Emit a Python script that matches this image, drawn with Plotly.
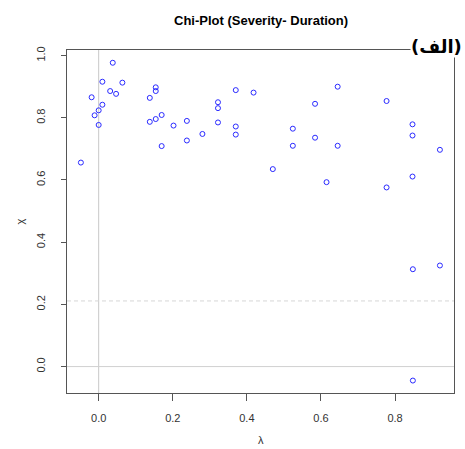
import plotly.graph_objects as go

# Data
lambda_vals = [-0.048, -0.019, 0.038, 0.010, 0.064, 0.031, 0.047, 0.010, 0.000, -0.011,
               0.000, 0.154, 0.154, 0.138, 0.138, 0.154, 0.170, 0.170, 0.202, 0.238,
               0.238, 0.280, 0.322, 0.322, 0.322, 0.370, 0.370, 0.370, 0.418, 0.645,
               0.584, 0.777, 0.524, 0.584, 0.524, 0.645, 0.847, 0.847, 0.921, 0.470,
               0.615, 0.777, 0.847, 0.848, 0.921, 0.848]
chi_vals = [0.656, 0.866, 0.977, 0.916, 0.913, 0.886, 0.877, 0.842, 0.824, 0.808,
            0.777, 0.898, 0.886, 0.864, 0.787, 0.796, 0.809, 0.709, 0.775, 0.790,
            0.727, 0.748, 0.850, 0.831, 0.785, 0.889, 0.772, 0.746, 0.881, 0.900,
            0.845, 0.854, 0.765, 0.736, 0.710, 0.710, 0.779, 0.743, 0.697, 0.635,
            0.593, 0.576, 0.611, 0.313, 0.325, -0.045]
control_limit = 0.211
x_ticks = [0.0, 0.2, 0.4, 0.6, 0.8]
y_ticks = [0.0, 0.2, 0.4, 0.6, 0.8, 1.0]
title_text = "Chi-Plot (Severity- Duration)"
tag_text = "(الف)"

fig = go.Figure()
fig.add_trace(go.Scatter(
    x=lambda_vals, y=chi_vals, mode="markers",
    marker=dict(symbol="circle-open", size=5, color="#2a2aff", line=dict(width=1, color="#2a2aff")),
    showlegend=False, hoverinfo="skip"))

# reference lines
fig.add_shape(type="line", xref="x", yref="paper", x0=0, x1=0, y0=0, y1=1,
              line=dict(color="#c8c8c8", width=1), layer="below")
fig.add_shape(type="line", xref="paper", yref="y", x0=0, x1=1, y0=0, y1=0,
              line=dict(color="#d0d0d0", width=1), layer="below")
fig.add_shape(type="line", xref="paper", yref="y", x0=0, x1=1, y0=control_limit, y1=control_limit,
              line=dict(color="#d6d6d6", width=1, dash="4px,3px"), layer="below")

tickfont = dict(family="Liberation Sans, Arial, sans-serif", size=11, color="#333")
fig.update_xaxes(range=[-0.0855, 0.959], tickvals=x_ticks, ticktext=[f"{v:.1f}" for v in x_ticks],
                 showgrid=False, zeroline=False, showline=True, mirror=True,
                 linecolor="#555", linewidth=1, ticks="outside", ticklen=7, tickcolor="#555",
                 tickfont=tickfont, ticklabelstandoff=8)
fig.update_yaxes(range=[-0.085, 1.018], tickvals=y_ticks, ticktext=[f"{v:.1f}" for v in y_ticks],
                 showgrid=False, zeroline=False, showline=True, mirror=True,
                 linecolor="#555", linewidth=1, ticks="outside", ticklen=5, tickcolor="#555",
                 tickfont=tickfont, tickangle=-90, ticklabelstandoff=12)

fig.add_annotation(text="λ", xref="paper", yref="paper", x=0.5, y=0, yshift=-47, yanchor="middle",
                   showarrow=False, font=dict(family="Liberation Sans, Arial", size=11, color="#333"))
fig.add_annotation(text="χ", xref="paper", yref="paper", x=0, y=0.5, xshift=-48, textangle=-90,
                   xanchor="center", yanchor="middle",
                   showarrow=False, font=dict(family="Liberation Sans, Arial", size=11, color="#333"))
fig.add_annotation(text=f"<b>{title_text}</b>", xref="paper", yref="paper", x=0.5, y=1, yshift=30,
                   yanchor="middle",
                   showarrow=False, font=dict(family="Liberation Sans, Arial", size=13, color="black"))
fig.add_annotation(text=f"<b>{tag_text}</b>", xref="paper", yref="paper", x=1, y=1, xshift=9, yshift=4,
                   xanchor="right", yanchor="middle", showarrow=False, bgcolor="white", borderpad=0,
                   font=dict(family="DejaVu Sans", size=18, color="black"))

fig.update_layout(width=465, height=449, margin=dict(l=67, r=11, t=50, b=56),
                  paper_bgcolor="white", plot_bgcolor="white")
fig.write_html("out.html")
